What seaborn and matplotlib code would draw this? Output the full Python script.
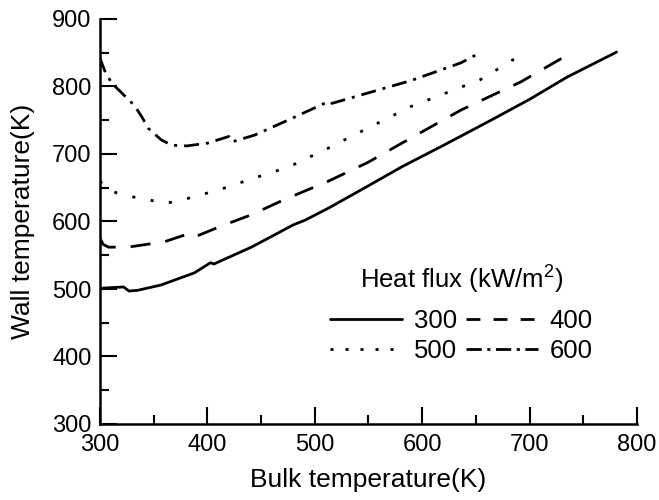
import numpy as np
import pandas as pd
import matplotlib
matplotlib.use("Agg")
import matplotlib.pyplot as plt
from matplotlib.lines import Line2D
from matplotlib.ticker import MultipleLocator
import seaborn as sns

# Heat flux 300 kW/m2
bulk_300 = [300, 310, 322, 327, 335, 357, 388, 403, 406, 441, 480, 491, 513, 550, 581, 620, 664, 700, 735, 781]
wall_300 = [501, 502, 503, 497, 498, 506, 524, 539, 537, 562, 595, 602, 620, 653, 681, 713, 750, 781, 814, 851]

# Heat flux 400 kW/m2
bulk_400 = [300, 303, 308, 326, 360, 379, 385, 411, 441, 471, 513, 550, 581, 636, 692, 740]
wall_400 = [575, 566, 562, 562, 570, 580, 575, 592, 610, 632, 660, 688, 716, 765, 807, 851]

# Heat flux 500 kW/m2
bulk_500 = [300, 305, 316, 332, 362, 379, 411, 443, 476, 513, 524, 589, 654, 686]
wall_500 = [660, 650, 642, 636, 627, 633, 647, 664, 681, 709, 718, 770, 810, 841]

# Heat flux 600 kW/m2
bulk_600 = [300, 305, 311, 332, 339, 345, 357, 367, 381, 400, 418, 420, 423, 444, 479, 513, 516, 590, 636, 655]
wall_600 = [842, 821, 805, 772, 755, 738, 721, 713, 712, 716, 725, 726, 718, 728, 753, 778, 775, 809, 835, 851]

flux_labels = ["300", "400", "500", "600"]

frames = []
for lab, xs, ys in zip(flux_labels,
                       [bulk_300, bulk_400, bulk_500, bulk_600],
                       [wall_300, wall_400, wall_500, wall_600]):
    frames.append(pd.DataFrame({"bulk": xs, "wall": ys, "flux": lab}))
df = pd.concat(frames, ignore_index=True)

sns.set_style("ticks")
plt.rcParams["font.family"] = ["Liberation Sans", "DejaVu Sans"]
plt.rcParams["mathtext.fontset"] = "custom"
plt.rcParams["mathtext.rm"] = "Liberation Sans"
plt.rcParams["mathtext.it"] = "Liberation Sans"
plt.rcParams["lines.scale_dashes"] = False
plt.rcParams["text.color"] = "black"
plt.rcParams["axes.labelcolor"] = "black"
plt.rcParams["xtick.color"] = "black"
plt.rcParams["ytick.color"] = "black"

fig = plt.figure(figsize=(6.59, 5), dpi=100)
ax = fig.add_axes([0.1517, 0.152, 0.8149, 0.81])

dash_map = {"300": "", "400": (14.4, 10.8), "500": (2.2, 11.2), "600": (10.8, 5, 2.2, 5)}
sns.lineplot(data=df, x="bulk", y="wall", style="flux", dashes=dash_map,
             color="black", linewidth=2.0, estimator=None, legend=False, ax=ax)

ax.set_xlim(300, 800)
ax.set_ylim(300, 900)
ax.xaxis.set_major_locator(MultipleLocator(100))
ax.xaxis.set_minor_locator(MultipleLocator(50))
ax.yaxis.set_major_locator(MultipleLocator(100))
ax.yaxis.set_minor_locator(MultipleLocator(50))
ax.tick_params(which="both", direction="in", width=1.5, colors="black", labelsize=17)
ax.tick_params(which="major", length=12, pad=6)
ax.tick_params(which="minor", length=6.5)
ax.tick_params(axis="x", which="major", pad=7)
sns.despine(ax=ax)
for side in ["left", "bottom"]:
    ax.spines[side].set_linewidth(1.8)
    ax.spines[side].set_color("black")

ax.set_xlabel("Bulk temperature(K)", fontsize=19, labelpad=9, color="black")
ax.set_ylabel("Wall temperature(K)", fontsize=19, labelpad=12, color="black")

# legend handles (legend dashes are a bit shorter than on the curves)
handles = [
    Line2D([], [], color="black", lw=2.0, linestyle="-"),
    Line2D([], [], color="black", lw=2.0, linestyle=(0, (10, 9.5))),
    Line2D([], [], color="black", lw=2.0, linestyle=(0, (2.2, 8.6))),
    Line2D([], [], color="black", lw=2.0, linestyle=(0, (11, 4, 2.2, 4))),
]
order = [0, 2, 1, 3]
leg = ax.legend([handles[i] for i in order], [flux_labels[i] for i in order],
                ncol=2, title="Heat flux (kW/m$^2$)", frameon=False,
                fontsize=18.5, title_fontsize=18.5, labelcolor="black",
                handlelength=2.8, handletextpad=0.45, columnspacing=0.35,
                labelspacing=0.25, loc="lower left",
                bbox_to_anchor=(0.41, 0.125), borderaxespad=0)
leg.get_title().set_color("black")
leg._legend_box.sep = 9

fig.savefig("out.png", dpi=100)
